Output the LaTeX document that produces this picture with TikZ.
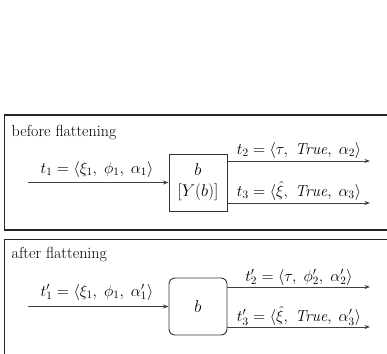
\RequirePackage{fix-cm}
\documentclass[tikz,border=0pt]{standalone}
\usetikzlibrary{arrows.meta}
\begin{document}
\begin{tikzpicture}[x=1pt,y=-1pt,
  frame/.style={draw=black!85, line width=1.1pt},
  blk/.style={draw=black!80, line width=0.9pt, minimum width=58pt, minimum height=57pt, inner sep=0pt, align=center, font=\fontsize{17}{21}\selectfont},
  conn/.style={draw=black!75, line width=0.9pt, -{Stealth[length=5.5pt,width=4pt]}},
  lbl/.style={font=\fontsize{16}{19}\selectfont, inner sep=0pt}
]
\useasboundingbox (0,0) rectangle (387,353);
\clip (0,0) rectangle (387,353);
\fill[white] (0,0) rectangle (387,353);
% frames
\draw[frame] (4.5,115) rectangle (420,230);
\draw[frame] (4.5,239.5) rectangle (420,400);
% titles
\node[lbl, anchor=base west] (title1) at (11.5,136) {before flattening};
\node[lbl, anchor=base west] (title2) at (11.5,258) {after flattening};
% before
\node[blk] (b1) at (198,182.5) {$b$\\$[Y(b)]$};
\coordinate (in1) at (28,182.5);
\coordinate (o1s) at (227,161);
\coordinate (o1e) at (370,161);
\coordinate (o2s) at (227,203);
\coordinate (o2e) at (370,203);
\draw[conn] (in1) -- (b1.west);
\draw[conn] (o1s) -- (o1e);
\draw[conn] (o2s) -- (o2e);
\node[lbl, anchor=base] (l1) at (97,173) {$t_1 = \langle \xi_1,\; \phi_1,\; \alpha_1\rangle$};
\node[lbl, anchor=base] (l2) at (299,154.5) {$t_2 = \langle \tau,\; \textit{True},\; \alpha_2\rangle$};
\node[lbl, anchor=base] (l3) at (299,196.5) {$t_3 = \langle \hat{\xi},\; \textit{True},\; \alpha_3\rangle$};
% after
\node[blk, rounded corners=6pt] (b2) at (198,306.5) {$b$};
\coordinate (in2) at (28,306.5);
\coordinate (p1s) at (227,287);
\coordinate (p1e) at (370,287);
\coordinate (p2s) at (227,327);
\coordinate (p2e) at (370,327);
\draw[conn] (in2) -- (b2.west);
\draw[conn] (p1s) -- (p1e);
\draw[conn] (p2s) -- (p2e);
\node[lbl, anchor=base] (m1) at (97,296) {$t_1' = \langle \xi_1,\; \phi_1,\; \alpha_1'\rangle$};
\node[lbl, anchor=base] (m2) at (299,281) {$t_2' = \langle \tau,\; \phi_2',\; \alpha_2'\rangle$};
\node[lbl, anchor=base] (m3) at (299,321.5) {$t_3' = \langle \hat{\xi},\; \textit{True},\; \alpha_3'\rangle$};
\end{tikzpicture}
\end{document}
